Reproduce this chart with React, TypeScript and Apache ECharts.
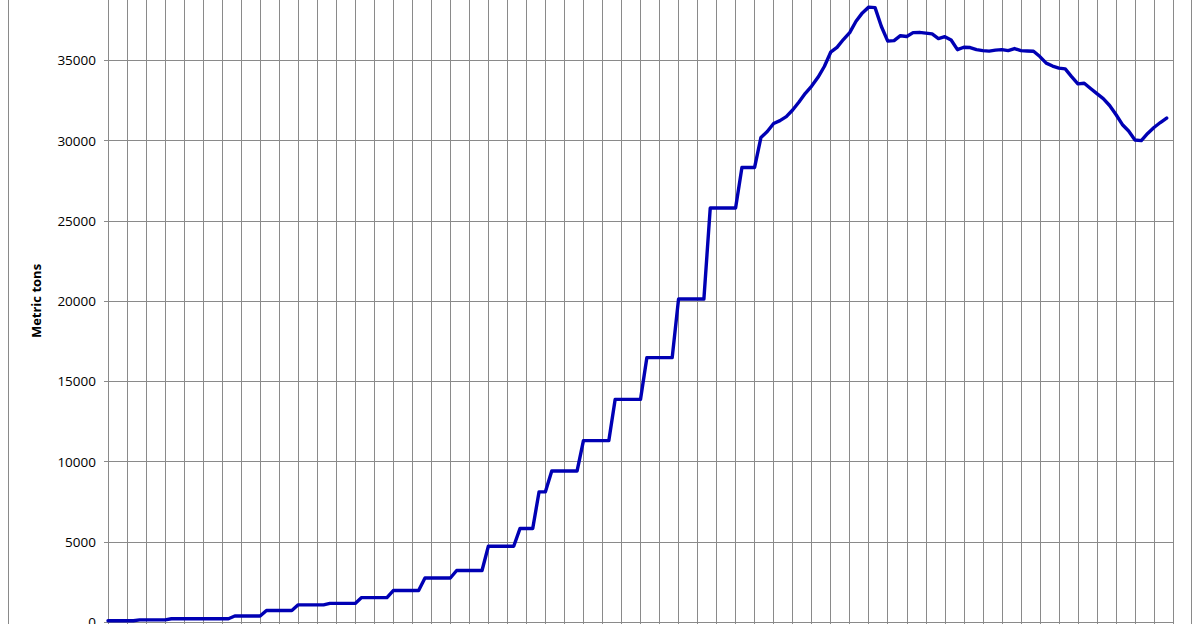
import React, { useEffect, useRef } from "react";
import * as echarts from "echarts";

// Series values, one per period (index 0..167)
const tonnage: number[] = [
  80, 80, 80, 80, 80,
  130, 130, 130, 130, 130,
  200, 200, 200, 200, 200, 200, 200, 200, 200, 200,
  370, 370, 370, 370, 370,
  720, 720, 720, 720, 720,
  1070, 1070, 1070, 1070, 1070,
  1160, 1160, 1160, 1160, 1160,
  1520, 1520, 1520, 1520, 1520,
  1960, 1960, 1960, 1960, 1960,
  2740, 2740, 2740, 2740, 2740,
  3210, 3210, 3210, 3210, 3210,
  4720, 4720, 4720, 4720, 4720,
  5830, 5830, 5830,
  8110, 8110,
  9410, 9410, 9410, 9410, 9410,
  11300, 11300, 11300, 11300, 11300,
  13870, 13870, 13870, 13870, 13870,
  16470, 16470, 16470, 16470, 16470,
  20120, 20120, 20120, 20120, 20120,
  25790, 25790, 25790, 25790, 25790,
  28320, 28320, 28320,
  30190, 30560, 31060, 31240, 31490, 31900, 32400, 32940, 33390, 33940,
  34610, 35500, 35800, 36290, 36720, 37430, 37950, 38310, 38280, 37100,
  36190, 36220, 36530, 36480, 36720, 36740, 36690, 36640, 36350, 36470,
  36260, 35660, 35810, 35790, 35660, 35600, 35570, 35630, 35660, 35600,
  35730, 35600, 35580, 35560, 35230, 34820, 34640, 34510, 34460, 33980,
  33530, 33570, 33240, 32920, 32610, 32180, 31620, 31000, 30590, 30030,
  29990, 30440, 30810, 31120, 31400,
];

const yAxisName = "Metric tons";
const xMin = 0;
const xMax = 168;
const xGridStep = 3;
const yMin = 0;
const yMax = 40000;
const yStep = 5000;

export default function App() {
  const ref = useRef<HTMLDivElement>(null);

  useEffect(() => {
    if (!ref.current) return;
    const chart = echarts.init(ref.current, undefined, { renderer: "svg" });
    const gray = "#8a8a8a";
    chart.setOption({
      animation: false,
      backgroundColor: "#ffffff",
      grid: { left: 108, right: 27, top: 20, bottom: 58, containLabel: false },
      graphic: [
        {
          type: "rect",
          shape: { x: 8.5, y: 0.5, width: 1183, height: 719 },
          style: { fill: "none", stroke: gray, lineWidth: 1 },
          silent: true,
          z: -1,
        },
      ],
      xAxis: {
        type: "value",
        min: xMin,
        max: xMax,
        interval: xGridStep,
        axisLine: { show: true, lineStyle: { color: gray, width: 1 } },
        axisTick: { show: true, length: 4, lineStyle: { color: gray } },
        axisLabel: { show: false },
        splitLine: { show: true, lineStyle: { color: gray, width: 1 } },
      },
      yAxis: {
        type: "value",
        min: yMin,
        max: yMax,
        interval: yStep,
        name: yAxisName,
        nameLocation: "middle",
        nameGap: 66,
        nameRotate: 90,
        nameTextStyle: {
          fontFamily: "Open Sans",
          fontWeight: "bold",
          fontSize: 13,
          color: "#000000",
        },
        axisLine: { show: true, lineStyle: { color: gray, width: 1 } },
        axisTick: { show: true, length: 4, lineStyle: { color: gray } },
        axisLabel: {
          fontFamily: "Open Sans",
          fontSize: 13.5,
          color: "#000000",
          margin: 12,
          formatter: (v: number) => String(v),
        },
        splitLine: { show: true, lineStyle: { color: gray, width: 1 } },
      },
      series: [
        {
          type: "line",
          data: tonnage.map((v, i) => [i, v]),
          showSymbol: false,
          symbol: "none",
          lineStyle: { color: "#0000b4", width: 3.4, join: "round", cap: "round" },
          z: 5,
        },
      ],
    });
    return () => chart.dispose();
  }, []);

  return (
    <div
      style={{
        position: "fixed",
        left: 0,
        top: 0,
        width: 1200,
        height: 624,
        overflow: "hidden",
        background: "#ffffff",
      }}
    >
      <div
        ref={ref}
        style={{ position: "absolute", left: 0, top: -40, width: 1200, height: 720 }}
      />
    </div>
  );
}
